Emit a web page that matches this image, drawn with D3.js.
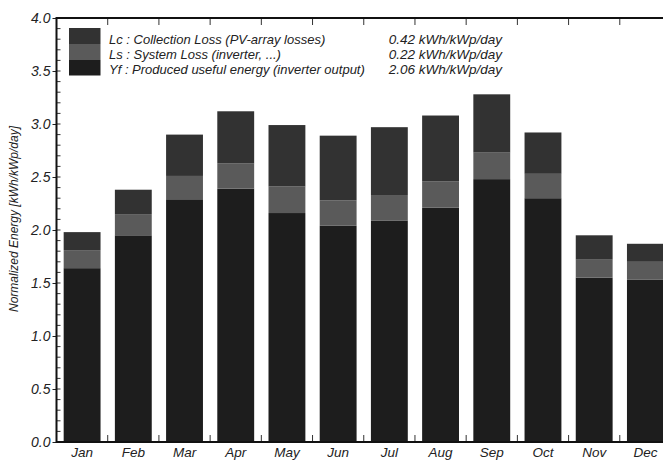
<!DOCTYPE html>
<html><head><meta charset="utf-8">
<script src="https://cdn.jsdelivr.net/npm/d3@7"></script>
<style>body{margin:0;background:#fff}svg{display:block}text{font-family:"Liberation Sans",Arial,sans-serif;font-style:italic;fill:#222}</style>
</head><body><svg id="c" width="663" height="461"></svg>
<script>
const months = ["Jan","Feb","Mar","Apr","May","Jun","Jul","Aug","Sep","Oct","Nov","Dec"];
const yf = [1.64,1.95,2.29,2.39,2.16,2.04,2.09,2.21,2.48,2.30,1.55,1.53];
const ls = [0.17,0.20,0.22,0.24,0.25,0.24,0.24,0.25,0.25,0.23,0.17,0.17];
const lc = [0.17,0.23,0.39,0.49,0.58,0.61,0.64,0.62,0.55,0.39,0.23,0.17];
const yTicks = [0,0.5,1,1.5,2,2.5,3,3.5,4];
const legendLabels = ["Lc : Collection Loss (PV-array losses)","Ls : System Loss  (inverter, ...)","Yf : Produced useful energy  (inverter output)"];
const legendValues = ["0.42 kWh/kWp/day","0.22 kWh/kWp/day","2.06 kWh/kWp/day"];
const colors = {Yf:"#1d1d1d", Ls:"#5a5a5a", Lc:"#323232"};

const svg = d3.select("#c");
const L = 56.5, R = 671, T = 18, B = 442;
const x = d3.scaleBand().domain(months).range([L,R]).paddingInner(0.28).paddingOuter(0.14);
const y = d3.scaleLinear().domain([0,4]).range([B,T]);

const rows = months.map((m,i)=>({m, Yf:yf[i], Ls:ls[i], Lc:lc[i]}));
const stack = d3.stack().keys(["Yf","Ls","Lc"])(rows);

svg.append("g").selectAll("g").data(stack).join("g")
  .attr("fill", d=>colors[d.key])
  .selectAll("rect").data(d=>d).join("rect")
  .attr("x", d=>x(d.data.m)).attr("width", x.bandwidth())
  .attr("y", d=>y(d[1])).attr("height", d=>y(d[0])-y(d[1]));

const yAxis = d3.axisLeft(y).tickValues(yTicks).tickFormat(d3.format(".1f")).tickSize(4).tickPadding(2);
const gy = svg.append("g").attr("transform",`translate(${L},0)`).call(yAxis);
gy.select(".domain").remove();
gy.selectAll("text").attr("font-size",14).style("font-family","Liberation Sans, Arial").style("font-style","italic").attr("fill","#222");
gy.selectAll("line").attr("stroke","#222");
const minor = d3.range(0,4.001,0.1);
svg.append("g").selectAll("line").data(minor).join("line")
  .attr("x1",L).attr("x2",L+4).attr("y1",d=>y(d)).attr("y2",d=>y(d)).attr("stroke","#333").attr("stroke-width",1);

const gx = svg.append("g").attr("transform",`translate(0,${B})`).call(d3.axisBottom(x).tickSize(0).tickPadding(5));
gx.select(".domain").remove();
gx.selectAll("text").attr("font-size",13.5).style("font-family","Liberation Sans, Arial").style("font-style","italic").attr("fill","#222");

const bounds = months.slice(0,11).map(m=>x(m)+x.bandwidth()+x.step()*x.paddingInner()/2);
svg.append("g").selectAll("line").data(bounds).join("line")
  .attr("x1",d=>d).attr("x2",d=>d).attr("y1",B).attr("y2",B-7).attr("stroke","#333");
svg.append("g").selectAll("line").data(bounds).join("line")
  .attr("x1",d=>d).attr("x2",d=>d).attr("y1",T).attr("y2",T+7).attr("stroke","#333");

svg.append("path").attr("d",`M${R},${T}H${L}V${B}H${R}`).attr("fill","none").attr("stroke","#111").attr("stroke-width",2);

svg.append("text").attr("transform","translate(18,219) rotate(-90)").attr("text-anchor","middle")
  .attr("font-size",12).attr("fill","#333").text("Normalized Energy [kWh/kWp/day]");

const lg = svg.append("g");
const keys = ["Lc","Ls","Yf"];
const sw = [28,44,60], sh = [16,16,15.5];
keys.forEach((k,i)=>{
  lg.append("rect").attr("x",69).attr("y",sw[i]).attr("width",31.5).attr("height",sh[i]).attr("fill",colors[k]);
  lg.append("text").attr("x",109).attr("y",43.5+i*15).attr("font-size",13).text(legendLabels[i]);
  lg.append("text").attr("x",502).attr("y",43.5+i*15).attr("font-size",13.5).attr("text-anchor","end").text(legendValues[i]);
});
</script></body></html>
